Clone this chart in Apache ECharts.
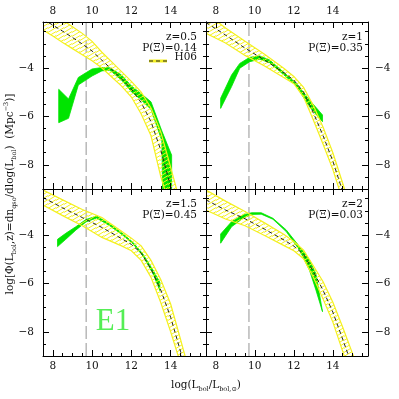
<!DOCTYPE html>
<html><head><meta charset="utf-8">
<script src="https://cdn.jsdelivr.net/npm/echarts@6/dist/echarts.min.js"></script>
<style>html,body{margin:0;padding:0;background:#fff}#c{width:399px;height:399px}</style>
</head><body><div id="c"></div>
<script>
// ---------- axis ranges & ticks ----------
const xMin = 7.5, xMax = 15.8, yMin = -9, yMax = -2.1;
const xMajorTicks = [8, 10, 12, 14];
const yMajorTicks = [-8, -6, -4];
const lbolLimit = 9.7;

// ---------- panel annotations ----------
const panelZ = ['z=0.5', 'z=1', 'z=1.5', 'z=2'];
const panelP = ['P(\u039E)=0.14', 'P(\u039E)=0.35', 'P(\u039E)=0.45', 'P(\u039E)=0.03'];

// ---------- H06 band (z=0.5) ----------
const h06X_1   = [7.5, 8.0, 8.5, 9.0, 9.5, 10.0, 10.5, 11.0, 11.5, 12.0, 12.5, 13.0, 13.5, 14.0, 14.5];
const h06Mid_1 = [-1.98, -2.23, -2.48, -2.74, -3.01, -3.3, -3.68, -4.06, -4.45, -4.87, -5.43, -6.22, -7.4, -8.9, -10.5];
const h06Hi_1  = [-1.5, -1.77, -2.02, -2.3, -2.57, -2.9, -3.35, -3.75, -4.15, -4.55, -5.0, -5.65, -6.65, -8.1, -9.6];
const h06Lo_1  = [-2.43, -2.68, -2.95, -3.2, -3.45, -3.7, -4.0, -4.37, -4.75, -5.2, -5.9, -6.8, -8.5, -9.8, -11.2];
// ---------- H06 band (z=1) ----------
const h06X_2   = [7.5, 8.5, 9.5, 10.5, 11.5, 12.0, 12.5, 13.0, 13.5, 14.0, 14.5, 15.0];
const h06Mid_2 = [-2.12, -2.64, -3.18, -3.67, -4.2, -4.5, -5.0, -5.85, -6.8, -7.85, -9.1, -10.3];
const h06Hi_2  = [-1.72, -2.35, -2.9, -3.43, -4.02, -4.35, -4.8, -5.55, -6.45, -7.5, -8.75, -10.0];
const h06Lo_2  = [-2.57, -2.97, -3.48, -3.92, -4.4, -4.65, -5.2, -6.15, -7.15, -8.2, -9.45, -10.6];
// ---------- H06 band (z=1.5) ----------
const h06X_3   = [7.5, 8.5, 9.5, 10.5, 11.5, 12.0, 12.5, 13.0, 13.5, 14.0, 14.5, 15.0];
const h06Mid_3 = [-2.45, -2.88, -3.28, -3.69, -4.15, -4.39, -4.75, -5.4, -6.28, -7.4, -8.8, -10.2];
const h06Hi_3  = [-2.14, -2.55, -2.95, -3.28, -3.85, -4.13, -4.45, -5.05, -5.85, -6.85, -8.3, -9.8];
const h06Lo_3  = [-2.76, -3.2, -3.62, -4.1, -4.45, -4.65, -5.05, -5.75, -6.8, -8.0, -9.3, -10.6];
// ---------- H06 band (z=2) ----------
const h06X_4   = [7.5, 8.5, 9.5, 10.5, 11.5, 12.0, 12.5, 13.0, 13.5, 14.0, 14.5, 15.0, 15.5];
const h06Mid_4 = [-2.55, -2.97, -3.33, -3.76, -4.21, -4.46, -4.8, -5.51, -6.29, -7.19, -8.3, -9.44, -10.6];
const h06Hi_4  = [-2.14, -2.6, -3.03, -3.5, -3.98, -4.27, -4.63, -5.27, -5.93, -6.78, -7.8, -8.88, -10.0];
const h06Lo_4  = [-2.97, -3.34, -3.62, -4.02, -4.44, -4.65, -4.98, -5.75, -6.65, -7.6, -8.8, -10.0, -11.2];

// ---------- E1 model band (green) ----------
const e1X_1  = [8.3, 8.8, 9.3, 9.7, 10.0, 10.5, 10.9, 11.5, 12.0, 12.5, 13.0, 13.55, 13.6, 14.05];
const e1Hi_1 = [-4.88, -5.28, -4.39, -4.19, -4.04, -3.98, -3.99, -4.29, -4.74, -5.06, -5.4, -6.6, -6.7, -7.6];
const e1Lo_1 = [-6.26, -6.08, -4.7, -4.49, -4.33, -4.12, -4.09, -4.5, -4.98, -5.32, -5.71, -7.0, -9.5, -9.5];

const e1X_2  = [8.25, 8.81, 9.23, 9.74, 10.25, 10.76, 11.44, 12.12, 12.8, 13.47];
const e1Hi_2 = [-5.25, -4.29, -3.81, -3.56, -3.5, -3.67, -4.15, -4.63, -5.32, -5.94];
const e1Lo_2 = [-5.67, -4.77, -4.01, -3.74, -3.64, -3.78, -4.25, -4.74, -5.6, -6.22];

const e1X_3  = [8.24, 8.66, 9.17, 9.69, 10.23, 10.9, 11.6, 12.1, 12.6, 13.1, 13.45];
const e1Hi_3 = [-4.18, -3.93, -3.66, -3.36, -3.22, -3.55, -3.97, -4.32, -4.8, -5.45, -5.95];
const e1Lo_3 = [-4.48, -4.18, -3.8, -3.46, -3.3, -3.62, -4.03, -4.38, -4.88, -5.6, -6.3];

const e1X_4  = [8.25, 8.81, 9.4, 9.83, 10.33, 10.93, 11.61, 12.29, 12.8, 13.13, 13.47];
const e1Hi_4 = [-3.96, -3.45, -3.17, -3.08, -3.08, -3.31, -3.79, -4.48, -5.03, -5.6, -7.17];
const e1Lo_4 = [-4.34, -3.66, -3.31, -3.15, -3.14, -3.35, -3.86, -4.62, -5.45, -6.27, -7.17];

const panels = [
  {hx: h06X_1, hm: h06Mid_1, hh: h06Hi_1, hl: h06Lo_1, ex: e1X_1, eh: e1Hi_1, el: e1Lo_1},
  {hx: h06X_2, hm: h06Mid_2, hh: h06Hi_2, hl: h06Lo_2, ex: e1X_2, eh: e1Hi_2, el: e1Lo_2},
  {hx: h06X_3, hm: h06Mid_3, hh: h06Hi_3, hl: h06Lo_3, ex: e1X_3, eh: e1Hi_3, el: e1Lo_3},
  {hx: h06X_4, hm: h06Mid_4, hh: h06Hi_4, hl: h06Lo_4, ex: e1X_4, eh: e1Hi_4, el: e1Lo_4}
];

// ---------- styling ----------
const YELLOW = '#f4f020';
const GREEN = '#00e400';
const FONT = 'DejaVu Serif';
const grids = [
  {left: 43, top: 22, width: 163, height: 167},
  {left: 206, top: 22, width: 162, height: 167},
  {left: 43, top: 189, width: 163, height: 167},
  {left: 206, top: 189, width: 162, height: 167}
];

function makeHatch() {
  const w = 8, h = 4;
  const c = document.createElement('canvas');
  c.width = w; c.height = h;
  const ctx = c.getContext('2d');
  ctx.strokeStyle = YELLOW; ctx.lineWidth = 1;
  ctx.beginPath();
  for (let k = -1; k <= 1; k++) {
    ctx.moveTo(-1, h + 0.5 + h / w + k * h);
    ctx.lineTo(w + 1, -0.5 - h / w + k * h);
  }
  ctx.stroke();
  return c;
}
const hatch = {image: makeHatch(), repeat: 'repeat'};

const fmt = v => (v < 0 ? '\u2212' + Math.abs(v) : String(v));
const labelStyle = {fontFamily: FONT, fontSize: 10.5, color: '#111'};

const xAxes = [], yAxes = [];
grids.forEach((g, i) => {
  const isTop = i < 2, isLeft = i % 2 === 0;
  ['bottom', 'top'].forEach(pos => {
    xAxes.push({gridIndex: i, type: 'value', position: pos, min: xMin, max: xMax, interval: 0.5, z: 10,
      axisLine: {show: true, onZero: false, lineStyle: {color: '#000', width: 1}},
      axisTick: {show: true, inside: true, length: 3, lineStyle: {color: '#000'}},
      axisLabel: {show: false}, splitLine: {show: false}});
    const showLab = (pos === 'top') === isTop;
    xAxes.push({gridIndex: i, type: 'value', position: pos, min: xMin, max: xMax, z: 10,
      axisLine: {show: false, onZero: false},
      axisTick: {show: true, inside: true, length: 6, customValues: xMajorTicks, lineStyle: {color: '#000'}},
      axisLabel: Object.assign({show: showLab, customValues: xMajorTicks, margin: 5, formatter: fmt}, labelStyle),
      splitLine: {show: false}});
  });
  ['left', 'right'].forEach(pos => {
    yAxes.push({gridIndex: i, type: 'value', position: pos, min: yMin, max: yMax, interval: 0.5, z: 10,
      axisLine: {show: true, onZero: false, lineStyle: {color: '#000', width: 1}},
      axisTick: {show: true, inside: true, length: 3, lineStyle: {color: '#000'}},
      axisLabel: {show: false}, splitLine: {show: false}});
    const showLab = (pos === 'left') === isLeft;
    yAxes.push({gridIndex: i, type: 'value', position: pos, min: yMin, max: yMax, z: 10,
      axisLine: {show: false, onZero: false},
      axisTick: {show: true, inside: true, length: 6, customValues: yMajorTicks, lineStyle: {color: '#000'}},
      axisLabel: Object.assign({show: showLab, customValues: yMajorTicks, margin: pos === 'left' ? 9 : 7, formatter: fmt}, labelStyle),
      splitLine: {show: false}});
  });
});

function polySeries(i, xs, hi, lo, style, z) {
  return {
    type: 'custom', xAxisIndex: 4 * i, yAxisIndex: 4 * i, z: z, silent: true, clip: true,
    data: [[xs[0], hi[0]]],
    renderItem: function (params, api) {
      const pts = [];
      for (let k = 0; k < xs.length; k++) pts.push(api.coord([xs[k], hi[k]]));
      for (let k = xs.length - 1; k >= 0; k--) pts.push(api.coord([xs[k], lo[k]]));
      const cs = params.coordSys;
      return {type: 'polygon', shape: {points: pts}, style: style,
        clipPath: {type: 'rect', shape: {x: cs.x, y: cs.y, width: cs.width, height: cs.height}}};
    }
  };
}

const series = [];
panels.forEach((p, i) => {
  series.push({type: 'line', xAxisIndex: 4 * i, yAxisIndex: 4 * i, z: 1, silent: true,
    data: [[lbolLimit, yMin], [lbolLimit, yMax]], showSymbol: false, symbol: 'none',
    lineStyle: {color: '#b8b8b8', width: 1.5, type: [13, 4]}});
  series.push(polySeries(i, p.ex, p.eh, p.el, {fill: GREEN, stroke: GREEN, lineWidth: 0.8}, 2));
  series.push(polySeries(i, p.hx, p.hh, p.hl, {fill: hatch, stroke: YELLOW, lineWidth: 1.2}, 3));
  series.push({type: 'line', xAxisIndex: 4 * i, yAxisIndex: 4 * i, z: 4, silent: true, clip: true,
    data: p.hx.map((x, k) => [x, p.hm[k]]), showSymbol: false, symbol: 'none',
    lineStyle: {color: '#222', width: 1, type: [4, 3]}});
});

// ---------- text annotations ----------
const graphic = [];
grids.forEach((g, i) => {
  const rightX = g.left + g.width - (i % 2 === 0 ? 9 : 5);
  graphic.push({type: 'text', z: 20, x: rightX, y: g.top + 15,
    style: {text: panelZ[i], fill: '#111', font: '10.5px "' + FONT + '"', align: 'right', verticalAlign: 'middle'}});
  graphic.push({type: 'text', z: 20, x: rightX, y: g.top + 26,
    style: {text: panelP[i], fill: '#111', font: '10.5px "' + FONT + '"', align: 'right', verticalAlign: 'middle'}});
});
// legend entry H06
graphic.push({type: 'line', z: 20, shape: {x1: 149, y1: 61, x2: 167, y2: 61}, style: {stroke: YELLOW, lineWidth: 3}});
graphic.push({type: 'line', z: 21, shape: {x1: 149, y1: 61, x2: 167, y2: 61}, style: {stroke: '#222', lineWidth: 1, lineDash: [4, 3]}});
graphic.push({type: 'text', z: 20, x: 197, y: 57,
  style: {text: 'H06', fill: '#111', font: '10.5px "' + FONT + '"', align: 'right', verticalAlign: 'middle'}});
// model label
graphic.push({type: 'text', z: 20, x: 113, y: 322,
  style: {text: 'E1', fill: '#55ee55', font: '31px "Liberation Serif"', align: 'center', verticalAlign: 'middle'}});

const rich = {
  a: {fontFamily: FONT, fontSize: 10.5, lineHeight: 15, verticalAlign: 'middle', fill: '#111'},
  s: {fontFamily: FONT, fontSize: 6.5, lineHeight: 8, verticalAlign: 'bottom', fill: '#111'},
  u: {fontFamily: FONT, fontSize: 6.5, lineHeight: 8, verticalAlign: 'top', fill: '#111'}
};
graphic.push({type: 'text', z: 20, x: 206, y: 385,
  style: {text: '{a|log(L}{s|bol}{a|/L}{s|bol,\u2299}{a|)}', rich: rich, align: 'center', verticalAlign: 'middle'}});
graphic.push({type: 'text', z: 20, x: 10, y: 194, rotation: Math.PI / 2,
  style: {text: '{a|log[\u03A6(L}{s|bol}{a|,z)=dn}{s|qso}{a|/dlog(L}{s|bol}{a|)  (Mpc}{u|\u22123}{a|)]}', rich: rich, align: 'center', verticalAlign: 'middle'}});

const chart = echarts.init(document.getElementById('c'), null, {renderer: 'canvas'});
chart.setOption({
  animation: false,
  backgroundColor: '#fff',
  grid: grids,
  xAxis: xAxes,
  yAxis: yAxes,
  series: series,
  graphic: graphic
});
</script>
</body></html>
